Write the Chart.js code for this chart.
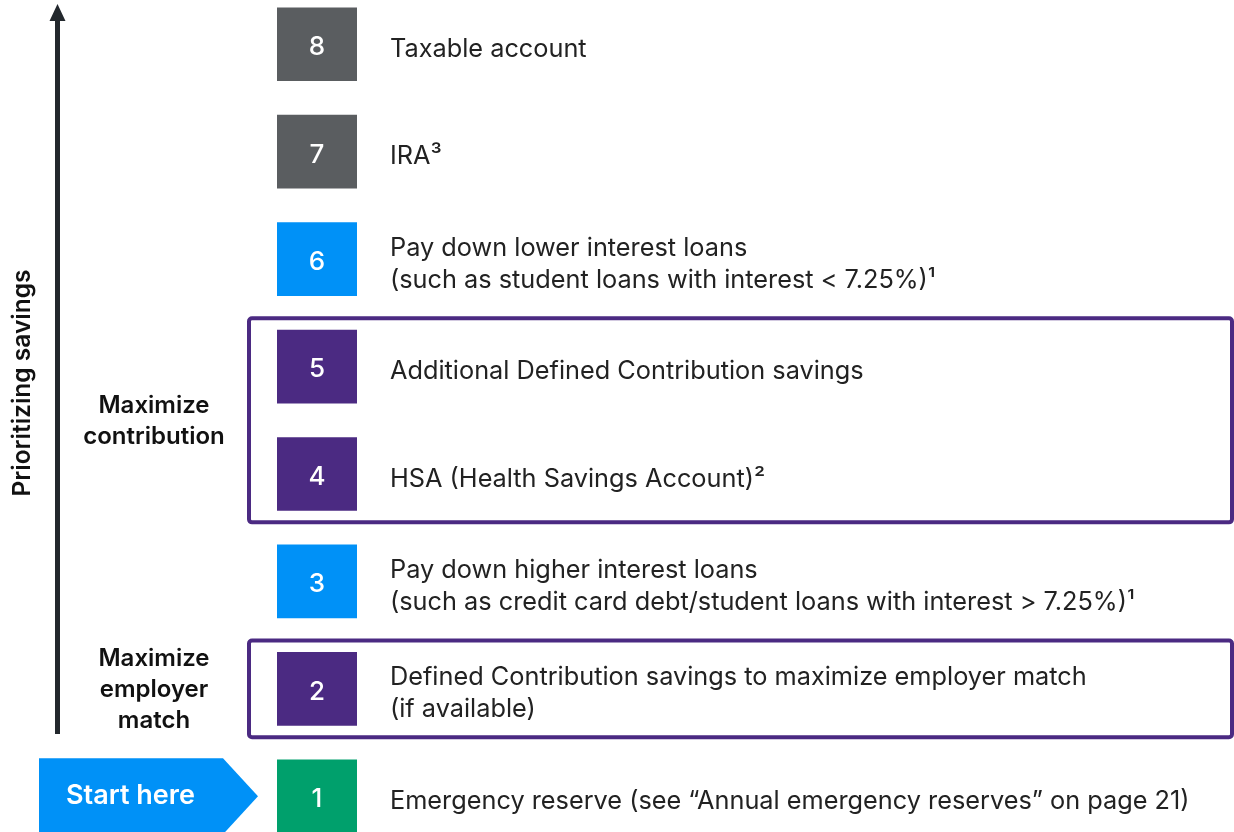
<!DOCTYPE html>
<html>
<head>
<meta charset="utf-8">
<script src="https://cdn.jsdelivr.net/npm/chart.js@4"></script>
<style>
    html, body { margin: 0; padding: 0; background: #fff; overflow: hidden; }
    #wrap { width: 1234px; height: 832px; }
</style>
</head>
<body>
<div id="wrap"><canvas id="stepsChart" width="1234" height="832"></canvas></div>
<script>
// steps, bottom (1) to top (8)
const steps = [1, 2, 3, 4, 5, 6, 7, 8];
const stepText = [
    ["Emergency reserve (see \u201CAnnual emergency reserves\u201D on page 21)"],
    ["Defined Contribution savings to maximize employer match", "(if available)"],
    ["Pay down higher interest loans", "(such as credit card debt/student loans with interest > 7.25%)\u00B9"],
    ["HSA (Health Savings Account)\u00B2"],
    ["Additional Defined Contribution savings"],
    ["Pay down lower interest loans", "(such as student loans with interest < 7.25%)\u00B9"],
    ["IRA\u00B3"],
    ["Taxable account"],
];
const stepType = ["reserve", "match", "loan", "match", "match", "loan", "other", "other"];

// outlined groups
const groupTitles = [["Maximize", "contribution"], ["Maximize", "employer", "match"]];
const groupSteps = [[4, 5], [2]];

const axisTitle = "Prioritizing savings";
const startLabel = "Start here";

const typeColors = {
    reserve: "#00a06c",
    match: "#4b2a82",
    loan: "#0091f7",
    other: "#5a5d60",
};
const PURPLE = "#4b2a82";
const FONT = "Inter, 'Noto Sans', sans-serif";

const decorations = {
    id: "decorations",
    afterDatasetsDraw(chart) {
        const ctx = chart.ctx;
        const y = chart.scales.y;
        const meta = chart.getDatasetMeta(0);
        ctx.save();

        // numbers + descriptions
        meta.data.forEach((bar, i) => {
            ctx.fillStyle = "#fff";
            ctx.font = "500 26px " + FONT;
            ctx.textAlign = "center";
            ctx.textBaseline = "middle";
            ctx.fillText(String(steps[i]), (bar.base + bar.x) / 2, bar.y + 3);

            const lines = stepText[i];
            ctx.fillStyle = "#222";
            ctx.font = "400 25.3px " + FONT;
            ctx.textAlign = "left";
            const lh = 32;
            const y0 = bar.y + 5 - (lines.length - 1) * lh / 2;
            lines.forEach((t, k) => ctx.fillText(t, 390, y0 + k * lh));
        });

        // group outlines + titles
        groupSteps.forEach((g, i) => {
            const top = y.getPixelForValue(Math.max(...g) + 0.45);
            const bottom = y.getPixelForValue(Math.min(...g) - 0.45);
            ctx.strokeStyle = PURPLE;
            ctx.lineWidth = 4;
            ctx.beginPath();
            ctx.roundRect(249, top, 1232 - 249, bottom - top, 3);
            ctx.stroke();

            const lines = groupTitles[i];
            const mid = (top + bottom) / 2;
            ctx.fillStyle = "#111";
            ctx.font = "600 24px " + FONT;
            ctx.textAlign = "center";
            ctx.textBaseline = "middle";
            lines.forEach((t, k) => ctx.fillText(t, 154, mid + 1 + (k - (lines.length - 1) / 2) * 31));
        });

        // vertical arrow
        ctx.strokeStyle = "#23282d";
        ctx.fillStyle = "#23282d";
        ctx.lineWidth = 5;
        ctx.beginPath();
        ctx.moveTo(57.5, 734);
        ctx.lineTo(57.5, 18);
        ctx.stroke();
        ctx.beginPath();
        ctx.moveTo(57.5, 4);
        ctx.lineTo(49.5, 21);
        ctx.lineTo(65.5, 21);
        ctx.closePath();
        ctx.fill();

        // axis title
        ctx.save();
        ctx.translate(23, 383);
        ctx.rotate(-Math.PI / 2);
        ctx.fillStyle = "#111";
        ctx.font = "600 24.5px " + FONT;
        ctx.textAlign = "center";
        ctx.textBaseline = "middle";
        ctx.fillText(axisTitle, 0, 0);
        ctx.restore();

        // start here tag
        const sy = meta.data[0].y;
        ctx.fillStyle = "#0091f7";
        ctx.beginPath();
        ctx.moveTo(39, sy - 38);
        ctx.lineTo(223, sy - 38);
        ctx.lineTo(258, sy);
        ctx.lineTo(223, sy + 38);
        ctx.lineTo(39, sy + 38);
        ctx.closePath();
        ctx.fill();
        ctx.fillStyle = "#fff";
        ctx.font = "600 27px " + FONT;
        ctx.textAlign = "left";
        ctx.textBaseline = "middle";
        ctx.fillText(startLabel, 66, sy);

        ctx.restore();
    },
};

new Chart(document.getElementById("stepsChart"), {
    type: "bar",
    data: {
        datasets: [
            {
                data: steps.map((s) => ({ y: s, x: [0, 1] })),
                backgroundColor: stepType.map((t) => typeColors[t]),
                barThickness: 73,
                borderWidth: 0,
            },
        ],
    },
    options: {
        indexAxis: "y",
        responsive: false,
        animation: false,
        devicePixelRatio: 1,
        layout: { padding: { left: 277, right: 877, top: 0, bottom: 0 } },
        plugins: {
            legend: { display: false },
            tooltip: { enabled: false },
        },
        scales: {
            y: { type: "linear", min: 0.668, max: 8.412, offset: false, display: false },
            x: { type: "linear", min: 0, max: 1, display: false },
        },
    },
    plugins: [decorations],
});
</script>
</body>
</html>
